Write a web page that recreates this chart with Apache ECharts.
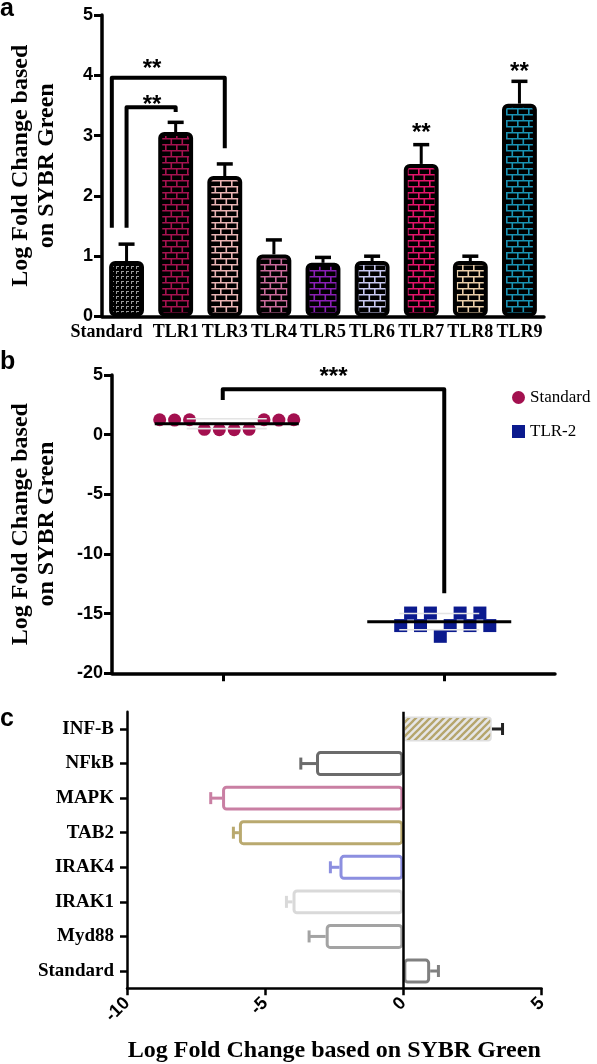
<!DOCTYPE html>
<html><head><meta charset="utf-8">
<script src="https://cdn.jsdelivr.net/npm/echarts@6/dist/echarts.min.js"></script>
<style>html,body{margin:0;padding:0;background:#fff}#c{width:597px;height:1064px}</style>
</head><body><div id="c"></div>
<script>
// ---------- Panel a data ----------
const catsA = ['Standard','TLR1','TLR3','TLR4','TLR5','TLR6','TLR7','TLR8','TLR9'];
const meanA = [0.92, 3.06, 2.33, 1.03, 0.89, 0.92, 2.53, 0.92, 3.53];
const semA  = [0.28, 0.16, 0.20, 0.24, 0.09, 0.08, 0.32, 0.08, 0.37];
// significance brackets: category positions and heights (axis units)
const bracketsA = [
  {from: -0.3, to: 2, top: 3.96, fromEnd: 1.47, toEnd: 2.79},
  {from: 0, to: 1, top: 3.47, fromEnd: 1.47, toEnd: 3.39}
];
const starsA = [
  {pos: 0.52, y: 4.2, text: '**'},
  {pos: 0.52, y: 3.6, text: '**'},
  {pos: 6, y: 3.14, text: '**'},
  {pos: 8, y: 4.14, text: '**'}
];
// ---------- Panel b data ----------
const groupsB = ['Standard','TLR-2'];
const standardB = [1.25, 1.22, 1.25, 0.45, 0.42, 0.42, 0.45, 1.25, 1.22, 1.25];
const tlr2B = [-16.0, -14.95, -16.0, -14.95, -16.9, -16.0, -14.95, -16.0, -14.95, -16.0];
const bracketB = {from: 0, to: 1, top: 3.8, fromEnd: 2.9, toEnd: -13.3};
const starB = {pos: 0.5, y: 5.3, text: '***'};
// ---------- Panel c data ----------
const catsC = ['INF-B','NFkB','MAPK','TAB2','IRAK4','IRAK1','Myd88','Standard'];
const meanC = [3.20, -3.16, -6.56, -5.95, -2.31, -4.01, -2.81, 0.97];
const semC  = [0.39, 0.55, 0.41, 0.20, 0.33, 0.22, 0.60, 0.30];

// ---------- styles ----------
const brickColorsA = ['#9a9a9a','#a5124f','#e8b4b4','#c86a9a','#8a1fb5','#c8c8f0','#e3146a','#e8cca8','#1a92b4'];
const borderColorsC = ['#dedede','#6b6b6b','#c97fa3','#b9a96f','#8c8fe0','#d9d9d9','#a3a3a3','#808080'];
const errColorsC = ['#222222','#6b6b6b','#c97fa3','#b9a96f','#8c8fe0','#d9d9d9','#a3a3a3','#808080'];
const colorStd = '#a3104f', colorTLR2 = '#0b1a8e';
const SERIF = '"Liberation Serif", "Times New Roman", serif';
const SANS = '"Liberation Sans", Arial, sans-serif';

function brick(color) {
  const c = document.createElement('canvas'); c.width = 11; c.height = 12;
  const g = c.getContext('2d');
  g.fillStyle = '#000'; g.fillRect(0, 0, 11, 12);
  g.strokeStyle = color; g.lineWidth = 1.6;
  g.beginPath();
  g.moveTo(0, 0.8); g.lineTo(11, 0.8);
  g.moveTo(0, 6.8); g.lineTo(11, 6.8);
  g.moveTo(0.8, 0.8); g.lineTo(0.8, 6.8);
  g.moveTo(6.3, 6.8); g.lineTo(6.3, 12);
  g.stroke();
  return {image: c, repeat: 'repeat'};
}
function dots(color) {
  const c = document.createElement('canvas'); c.width = 5; c.height = 5;
  const g = c.getContext('2d');
  g.fillStyle = '#000'; g.fillRect(0, 0, 5, 5);
  g.fillStyle = color; g.fillRect(1, 1, 3, 1); g.fillRect(1, 1, 1, 3);
  return {image: c, repeat: 'repeat'};
}
function hatch() {
  const c = document.createElement('canvas'); c.width = 7; c.height = 7;
  const g = c.getContext('2d');
  g.fillStyle = '#e6e6e6'; g.fillRect(0, 0, 7, 7);
  g.strokeStyle = '#b5a56c'; g.lineWidth = 2.3;
  g.beginPath();
  g.moveTo(-1, 8); g.lineTo(8, -1);
  g.moveTo(-1, 1); g.lineTo(1, -1);
  g.moveTo(6, 8); g.lineTo(8, 6);
  g.stroke();
  return {image: c, repeat: 'repeat'};
}
const mean = a => a.reduce((s, v) => s + v, 0) / a.length;
const sd = a => { const m = mean(a); return Math.sqrt(a.reduce((s, v) => s + (v - m) * (v - m), 0) / (a.length - 1)); };

function xAt(api, pos) {
  const a = api.coord([0, 0])[0], b = api.coord([1, 0])[0];
  return a + (b - a) * pos;
}
function bracketShape(api, br) {
  const x1 = xAt(api, br.from), x2 = xAt(api, br.to);
  const yT = api.coord([0, br.top])[1], y1 = api.coord([0, br.fromEnd])[1], y2 = api.coord([0, br.toEnd])[1];
  return {type: 'polyline', shape: {points: [[x1, y1], [x1, yT], [x2, yT], [x2, y2]]},
    style: {stroke: '#000', lineWidth: 4, fill: null, lineJoin: 'round'}};
}
function starText(api, st) {
  return {type: 'text', style: {text: st.text, x: xAt(api, st.pos), y: api.coord([0, st.y])[1] + 6,
    fill: '#000', font: 'bold 24px ' + SANS, align: 'center', verticalAlign: 'middle'}};
}

const chart = echarts.init(document.getElementById('c'), null, {renderer: 'canvas'});
const yNameStyle = {fontFamily: SERIF, fontWeight: 'bold', fontSize: 24, lineHeight: 26, color: '#000'};
const tickLabel = {fontFamily: SANS, fontWeight: 'bold', fontSize: 18, color: '#000'};
const blackAxis = w => ({show: true, onZero: false, lineStyle: {color: '#000', width: w}});

const option = {
  animation: false,
  backgroundColor: '#fff',
  graphic: [
    {type: 'text', left: 0, top: -3, style: {text: 'a', font: 'bold 25px ' + SANS, fill: '#000'}},
    {type: 'text', left: 0, top: 350, style: {text: 'b', font: 'bold 25px ' + SANS, fill: '#000'}},
    {type: 'text', left: 0, top: 707, style: {text: 'c', font: 'bold 25px ' + SANS, fill: '#000'}}
  ],
  legend: {
    data: [{name: 'Standard', icon: 'circle'}, {name: 'TLR-2', icon: 'rect'}],
    orient: 'vertical', left: 507, top: 384, itemWidth: 13, itemHeight: 13, itemGap: 17,
    selectedMode: false,
    textStyle: {fontFamily: SERIF, fontSize: 17, lineHeight: 14, color: '#000'}
  },
  grid: [
    {left: 89, top: 15, width: 455, height: 301.5},
    {left: 102, top: 375, width: 453, height: 298.3},
    {left: 127, top: 711.7, width: 414.5, height: 276.6}
  ],
  xAxis: [
    {gridIndex: 0, type: 'category', data: catsA, axisLine: blackAxis(3.5), axisTick: {show: false},
      axisLabel: {margin: 7, fontFamily: SERIF, fontWeight: 'bold', fontSize: 18, color: '#000', interval: 0,
        formatter: (v, i) => i === 0 ? '{s|' + v + '}' : v,
        rich: {s: {fontFamily: SERIF, fontWeight: 'bold', fontSize: 18, color: '#000', padding: [0, 40, 0, 0]}}}},
    {gridIndex: 1, type: 'category', data: groupsB, axisLine: blackAxis(3.5),
      axisTick: {show: true, alignWithLabel: true, length: 8, lineStyle: {color: '#000', width: 3}},
      axisLabel: {show: false}},
    {gridIndex: 2, type: 'value', min: -10, max: 5, interval: 5, splitLine: {show: false},
      axisLine: blackAxis(2.5), axisTick: {show: true, length: 7, lineStyle: {color: '#000', width: 2.5}},
      axisLabel: Object.assign({rotate: 45, margin: 12}, tickLabel),
      name: 'Log Fold Change based on SYBR Green', nameLocation: 'middle', nameGap: 50,
      nameTextStyle: {fontFamily: SERIF, fontWeight: 'bold', fontSize: 24, color: '#000'}}
  ],
  yAxis: [
    {gridIndex: 0, type: 'value', min: 0, max: 5, interval: 1, splitLine: {show: false},
      axisLine: blackAxis(3.5), axisTick: {show: true, length: 8, lineStyle: {color: '#000', width: 3}},
      axisLabel: Object.assign({margin: 9}, tickLabel),
      name: 'Log Fold Change based\non SYBR Green', nameLocation: 'middle', nameGap: 42, nameTextStyle: yNameStyle},
    {gridIndex: 1, type: 'value', min: -20, max: 5, interval: 5, splitLine: {show: false},
      axisLine: blackAxis(3.5), axisTick: {show: true, length: 8, lineStyle: {color: '#000', width: 3}},
      axisLabel: Object.assign({margin: 9}, tickLabel),
      name: 'Log Fold Change based\non SYBR Green', nameLocation: 'middle', nameGap: 52, nameTextStyle: yNameStyle},
    {gridIndex: 2, type: 'category', data: catsC, inverse: true,
      axisLine: blackAxis(2.5), axisTick: {show: true, alignWithLabel: true, length: 7, lineStyle: {color: '#000', width: 2.5}},
      axisLabel: {margin: 13, fontFamily: SERIF, fontWeight: 'bold', fontSize: 19, color: '#000', interval: 0}}
  ],
  series: [
    // panel a error bars (behind bars)
    {type: 'custom', xAxisIndex: 0, yAxisIndex: 0, z: 1,
      data: meanA.map((m, i) => [i, m, semA[i]]),
      renderItem: (params, api) => {
        const i = api.value(0), m = api.value(1), s = api.value(2);
        const p0 = api.coord([i, m]), p1 = api.coord([i, m + s]);
        return {type: 'group', children: [
          {type: 'line', shape: {x1: p0[0], y1: p0[1], x2: p1[0], y2: p1[1]}, style: {stroke: '#000', lineWidth: 3}},
          {type: 'line', shape: {x1: p1[0] - 8, y1: p1[1], x2: p1[0] + 8, y2: p1[1]}, style: {stroke: '#000', lineWidth: 3.5}}
        ]};
      }},
    // panel a bars
    {type: 'bar', xAxisIndex: 0, yAxisIndex: 0, z: 2, barWidth: '71%',
      data: meanA.map((v, i) => ({value: v, itemStyle: {color: i === 0 ? dots(brickColorsA[i]) : brick(brickColorsA[i])}})),
      itemStyle: {borderColor: '#000', borderWidth: 4, borderRadius: 4}},
    // panel a brackets and stars
    {type: 'custom', xAxisIndex: 0, yAxisIndex: 0, z: 3,
      data: bracketsA.map(b => [0, b.top]),
      renderItem: (params, api) => bracketShape(api, bracketsA[params.dataIndex])},
    {type: 'custom', xAxisIndex: 0, yAxisIndex: 0, z: 3,
      data: starsA.map(s => [0, s.y]),
      renderItem: (params, api) => starText(api, starsA[params.dataIndex])},
    // panel b points
    {type: 'custom', name: 'Standard', xAxisIndex: 1, yAxisIndex: 1, z: 2, itemStyle: {color: colorStd},
      data: standardB.map(v => [0, v]),
      renderItem: (params, api) => {
        const p = api.coord([0, api.value(1)]);
        const x = p[0] + 4 + (params.dataIndex - (standardB.length - 1) / 2) * 14.9;
        return {type: 'circle', shape: {cx: x, cy: p[1], r: 6.5}, style: {fill: colorStd}};
      }},
    {type: 'custom', name: 'TLR-2', xAxisIndex: 1, yAxisIndex: 1, z: 2, itemStyle: {color: colorTLR2},
      data: tlr2B.map(v => [1, v]),
      renderItem: (params, api) => {
        const p = api.coord([1, api.value(1)]);
        const x = p[0] + 1 + (params.dataIndex - (tlr2B.length - 1) / 2) * 9.9;
        return {type: 'rect', shape: {x: x - 6.5, y: p[1] - 6.5, width: 13, height: 13}, style: {fill: colorTLR2}};
      }},
    // panel b mean and SD
    {type: 'custom', xAxisIndex: 1, yAxisIndex: 1, z: 4,
      data: [standardB, tlr2B].map((a, gi) => [gi, mean(a), sd(a)]),
      renderItem: (params, api) => {
        const gi = api.value(0), m = api.value(1), s = api.value(2);
        const pm = api.coord([gi, m]), pu = api.coord([gi, m + s]), pl = api.coord([gi, m - s]);
        const cx = pm[0] + (gi === 0 ? 4 : -5);
        return {type: 'group', children: [
          {type: 'line', shape: {x1: cx - 40, y1: pu[1], x2: cx + 40, y2: pu[1]}, style: {stroke: '#e4e4e4', lineWidth: 1.6}},
          {type: 'line', shape: {x1: cx - 40, y1: pl[1], x2: cx + 40, y2: pl[1]}, style: {stroke: '#e4e4e4', lineWidth: 1.6}},
          {type: 'line', shape: {x1: cx - 72, y1: pm[1], x2: cx + 72, y2: pm[1]}, style: {stroke: '#000', lineWidth: 3}}
        ]};
      }},
    // panel b bracket + stars
    {type: 'custom', xAxisIndex: 1, yAxisIndex: 1, z: 3,
      data: [[0, bracketB.top]],
      renderItem: (params, api) => ({type: 'group', children: [bracketShape(api, bracketB), starText(api, starB)]})},
    // panel c error bars
    {type: 'custom', xAxisIndex: 2, yAxisIndex: 2, z: 1,
      data: meanC.map((m, i) => [m, i, semC[i]]),
      renderItem: (params, api) => {
        const m = api.value(0), i = params.dataIndex, s = api.value(2);
        const e = m + (m >= 0 ? s : -s);
        const p0 = api.coord([m, i]), p1 = api.coord([e, i]);
        const col = errColorsC[i];
        return {type: 'group', children: [
          {type: 'line', shape: {x1: p0[0], y1: p0[1], x2: p1[0], y2: p1[1]}, style: {stroke: col, lineWidth: 3}},
          {type: 'line', shape: {x1: p1[0], y1: p1[1] - 6, x2: p1[0], y2: p1[1] + 6}, style: {stroke: col, lineWidth: 3}}
        ]};
      }},
    // panel c bars
    {type: 'bar', xAxisIndex: 2, yAxisIndex: 2, z: 2, barWidth: '72%',
      data: meanC.map((v, i) => ({value: v, itemStyle: {
        color: i === 0 ? hatch() : '#fff', borderColor: borderColorsC[i], borderWidth: i === 0 ? 1.5 : 3, borderRadius: 3}})),
      markLine: {silent: true, symbol: 'none', label: {show: false},
        lineStyle: {color: '#000', width: 2.5, type: 'solid'}, data: [{xAxis: 0}]}}
  ]
};
chart.setOption(option);
</script>
</body></html>
